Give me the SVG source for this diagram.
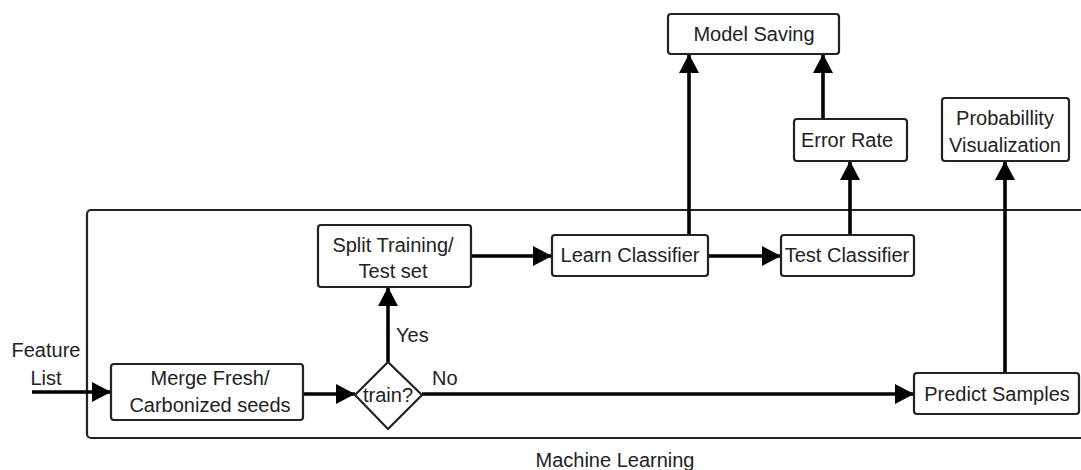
<svg xmlns="http://www.w3.org/2000/svg" width="1081" height="470" viewBox="0 0 1081 470">
<style>
  .box { fill: #fff; stroke: #222; stroke-width: 2.2; }
  .frame { fill: none; stroke: #222; stroke-width: 2.2; }
  .lbl { font-family: "Liberation Sans", Arial, sans-serif; font-size: 20px; fill: #222; text-anchor: middle; }
  .lbl-start { font-family: "Liberation Sans", Arial, sans-serif; font-size: 20px; fill: #222; text-anchor: start; }
  .conn { stroke: #000; stroke-width: 3.6; fill: none; marker-end: url(#arrow); }
</style>
<defs>
  <marker id="arrow" markerUnits="userSpaceOnUse" markerWidth="20" markerHeight="20" refX="19" refY="10" orient="auto">
    <path d="M0,0 L19,10 L0,20 Z" fill="#000"/>
  </marker>
</defs>
<rect width="1081" height="470" fill="#fff"/>

<g id="container">
  <rect class="frame" x="87" y="210" width="1030" height="228" rx="4"/>
  <text class="lbl" x="615" y="467">Machine Learning</text>
</g>

<g id="connectors">
  <line class="conn" x1="32" y1="392" x2="111" y2="392"/>
  <line class="conn" x1="303" y1="394" x2="355" y2="394"/>
  <line class="conn" x1="388" y1="362" x2="388" y2="287"/>
  <line class="conn" x1="422" y1="394" x2="914" y2="394"/>
  <line class="conn" x1="471" y1="256" x2="552" y2="256"/>
  <line class="conn" x1="708" y1="256" x2="781" y2="256"/>
  <line class="conn" x1="689" y1="235" x2="689" y2="54"/>
  <line class="conn" x1="850" y1="235" x2="850" y2="161"/>
  <line class="conn" x1="823" y1="119" x2="823" y2="54"/>
  <line class="conn" x1="1005" y1="373" x2="1005" y2="161"/>
  <text class="lbl-start" x="396" y="342">Yes</text>
  <text class="lbl-start" x="432" y="385">No</text>
</g>

<g id="feature-list">
  <text class="lbl" x="46" y="357">Feature</text>
  <text class="lbl" x="46" y="385">List</text>
</g>

<g id="merge">
  <rect class="box" x="111" y="364" width="192" height="56" rx="3"/>
  <text class="lbl" x="210" y="385">Merge Fresh/</text>
  <text class="lbl" x="210" y="412">Carbonized seeds</text>
</g>

<g id="train">
  <polygon class="box" points="388,362 422,395 388,429 355,395"/>
  <text class="lbl" x="388" y="402">train?</text>
</g>

<g id="split">
  <rect class="box" x="318" y="225" width="153" height="62" rx="3"/>
  <text class="lbl" x="393" y="252">Split Training/</text>
  <text class="lbl" x="393" y="278">Test set</text>
</g>

<g id="learn">
  <rect class="box" x="552" y="235" width="156" height="41" rx="3"/>
  <text class="lbl" x="630" y="262">Learn Classifier</text>
</g>

<g id="test">
  <rect class="box" x="781" y="235" width="133" height="41" rx="3"/>
  <text class="lbl" x="847" y="262">Test Classifier</text>
</g>

<g id="error">
  <rect class="box" x="794" y="119" width="113" height="42" rx="3"/>
  <text class="lbl" x="847" y="147">Error Rate</text>
</g>

<g id="model">
  <rect class="box" x="668" y="14" width="171" height="40" rx="3"/>
  <text class="lbl" x="754" y="41">Model Saving</text>
</g>

<g id="probability">
  <rect class="box" x="942" y="98" width="127" height="63" rx="3"/>
  <text class="lbl" x="1005" y="125">Probabillity</text>
  <text class="lbl" x="1005" y="152">Visualization</text>
</g>

<g id="predict">
  <rect class="box" x="914" y="373" width="165" height="41" rx="3"/>
  <text class="lbl" x="997" y="401">Predict Samples</text>
</g>
</svg>
